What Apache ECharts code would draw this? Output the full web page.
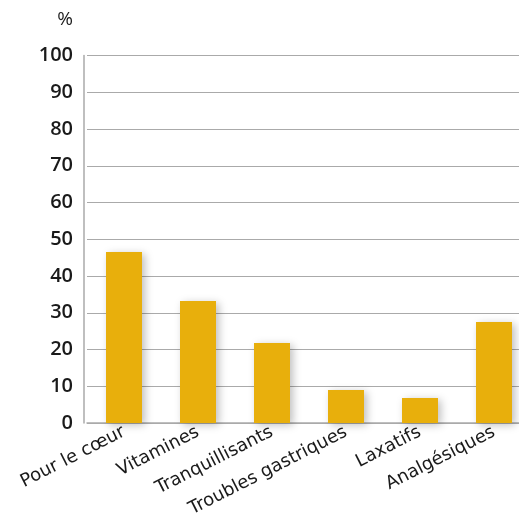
<!DOCTYPE html>
<html><head><meta charset="utf-8">
<script src="https://cdn.jsdelivr.net/npm/echarts@6/dist/echarts.min.js"></script>
<style>html,body{margin:0;padding:0;background:#fff;overflow:hidden}#c{width:535px;height:517px}</style>
</head><body><div id="c"></div>
<script>
const categories = ['Pour le cœur', 'Vitamines', 'Tranquillisants', 'Troubles gastriques', 'Laxatifs', 'Analgésiques'];
const values = [46.5, 33.2, 21.8, 9.0, 6.8, 27.5];
const yTicks = { min: 0, max: 100, interval: 10 };
const yName = '%';

const chart = echarts.init(document.getElementById('c'));
chart.setOption({
  animation: false,
  grid: { left: 87, right: 4, top: 55.5, bottom: 94, containLabel: false, outerBoundsMode: 'none' },
  xAxis: {
    type: 'category',
    data: categories,
    axisLine: { lineStyle: { color: '#aaaaaa', width: 1.5 } },
    axisTick: { show: false },
    axisLabel: { rotate: 27, color: '#1a1a1a', fontFamily: 'DejaVu Sans', fontSize: 18, margin: 8 }
  },
  yAxis: {
    type: 'value',
    min: yTicks.min, max: yTicks.max, interval: yTicks.interval,
    offset: 3,
    name: yName,
    nameLocation: 'end',
    nameGap: 26,
    nameTextStyle: { color: '#1a1a1a', fontFamily: 'Open Sans', fontSize: 19, align: 'right', padding: [0, 11, 0, 0] },
    axisLine: { show: true, lineStyle: { color: '#aaaaaa', width: 1.5 } },
    axisTick: { show: false },
    axisLabel: { color: '#1a1a1a', fontFamily: 'Open Sans', fontWeight: 600, fontSize: 20, margin: 11 },
    splitLine: { lineStyle: { color: '#aaaaaa', width: 1 } }
  },
  series: [{
    type: 'bar',
    data: values,
    barWidth: 36,
    itemStyle: { color: '#E8AF0C', shadowColor: 'rgba(0,0,0,0.25)', shadowBlur: 8, shadowOffsetX: 3, shadowOffsetY: 2 }
  }]
});
</script></body></html>
